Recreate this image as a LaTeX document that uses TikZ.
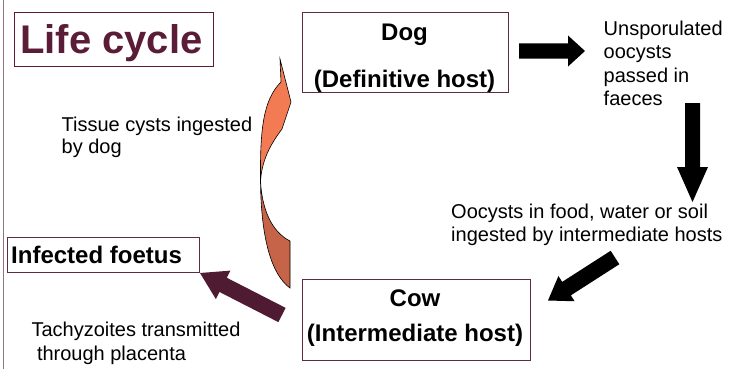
\documentclass[tikz,border=0pt]{standalone}
\usepackage{fontspec}
\setmainfont{Liberation Sans}
\usetikzlibrary{calc}
\definecolor{boxcol}{HTML}{5E2B40}
\definecolor{lifecol}{HTML}{5A1C36}
\definecolor{edgecol}{HTML}{8C7482}
\definecolor{maroonarrow}{HTML}{4F1B32}
\definecolor{orangeup}{HTML}{F27B54}
\definecolor{orangelow}{HTML}{C6644A}
% block arrow: tail, tip, shaft half width, head half width, head length, style
\newcommand{\blkarrow}[6]{%
  \path[#6] ($(#1)!#3!90:(#2)$) --
    ($($(#2)!#5!(#1)$)!#3!90:(#2)$) --
    ($($(#2)!#5!(#1)$)!#4!90:(#2)$) -- (#2) --
    ($($(#2)!#5!(#1)$)!#4!-90:(#2)$) --
    ($($(#2)!#5!(#1)$)!#3!-90:(#2)$) --
    ($(#1)!#3!-90:(#2)$) -- cycle;}
\begin{document}
\begin{tikzpicture}[x=1pt,y=-1pt,
  box/.style={draw=boxcol, line width=1pt, inner sep=0pt},
  lbl/.style={font=\fontsize{20}{23.3}\selectfont, align=left, inner sep=0pt, anchor=base west},
  boxtxt/.style={font=\fontsize{24}{28}\selectfont\bfseries, inner sep=0pt, anchor=base},
  blackarrow/.style={fill=black},
  marooned/.style={fill=maroonarrow},
  curvedline/.style={draw=black, line width=0.6pt}]
\useasboundingbox (0,0) rectangle (743,369);
% left edge line
\coordinate (e1) at (3,0);
\coordinate (e2) at (3,369);
\draw[edgecol, line width=1pt] (e1) -- (e2);
% boxes
\node[box, draw=lifecol, minimum width=198.7pt, minimum height=53.7pt] (lifebox) at (114.3,39.2) {};
\node[anchor=base west, inner sep=0pt, font=\fontsize{40}{48}\selectfont\bfseries, text=lifecol] (lifetxt) at (20,53.5) {Life cycle};
\node[box, minimum width=206pt, minimum height=80pt] (dog) at (405.3,52.7) {};
\node[boxtxt] (dogt1) at (404.5,40.5) {Dog};
\node[boxtxt] (dogt2) at (404.5,87) {(Definitive host)};
\node[box, minimum width=228.4pt, minimum height=80.7pt] (cow) at (416.5,320.3) {};
\node[boxtxt] (cowt1) at (415,306) {Cow};
\node[boxtxt] (cowt2) at (415,341.5) {(Intermediate host)};
\node[box, minimum width=191.7pt, minimum height=34.6pt] (foetus) at (103.2,255) {};
\node[boxtxt, anchor=base west] (foetust) at (11,263) {Infected foetus};
% labels (anchor = baseline of last line)
\node[lbl, font=\fontsize{20}{22}\selectfont] (tissue) at (61.5,153) {Tissue cysts ingested\\by dog};
\node[lbl] (unsp) at (603.5,105.4) {Unsporulated\\oocysts\\passed in\\faeces};
\node[lbl] (oocy) at (451,241.8) {Oocysts in food, water or soil\\ingested by intermediate hosts};
\node[lbl] (tachy) at (31.3,360) {Tachyzoites transmitted\\\hspace*{5.5pt}through placenta};
% black block arrows
\coordinate (ra1) at (519,51);
\coordinate (ra2) at (585,51);
\blkarrow{ra1}{ra2}{7.5pt}{15.5pt}{17pt}{blackarrow}
\coordinate (da1) at (692.5,103);
\coordinate (da2) at (692.5,202);
\blkarrow{da1}{da2}{7.5pt}{15.5pt}{35pt}{blackarrow}
\coordinate (ga1) at (615,257.5);
\coordinate (ga2) at (548,300.5);
\blkarrow{ga1}{ga2}{8pt}{15pt}{22pt}{blackarrow}
% maroon arrow
\coordinate (ma1) at (282,315);
\coordinate (ma2) at (200,273);
\blkarrow{ma1}{ma2}{8pt}{16pt}{26pt}{marooned}
% curved orange arrow
\coordinate (cj) at (260.5,181);
\coordinate (cs) at (281,82);
\coordinate (ct) at (280,59);
\coordinate (cb) at (291,102);
\coordinate (cn) at (282,129);
\coordinate (cl) at (290,288);
\coordinate (ci) at (290,241);
\path[curvedline, fill=orangeup] (cj) .. controls (260,130) and (263,100) .. (cs) -- (ct) -- (cb) -- (cn)
  .. controls (270,145) and (262,160) .. (cj) -- cycle;
\path[curvedline, fill=orangelow] (cj) .. controls (261,240) and (272,275) .. (cl) -- (ci)
  .. controls (272,232) and (262,210) .. (cj) -- cycle;
\end{tikzpicture}
\end{document}
